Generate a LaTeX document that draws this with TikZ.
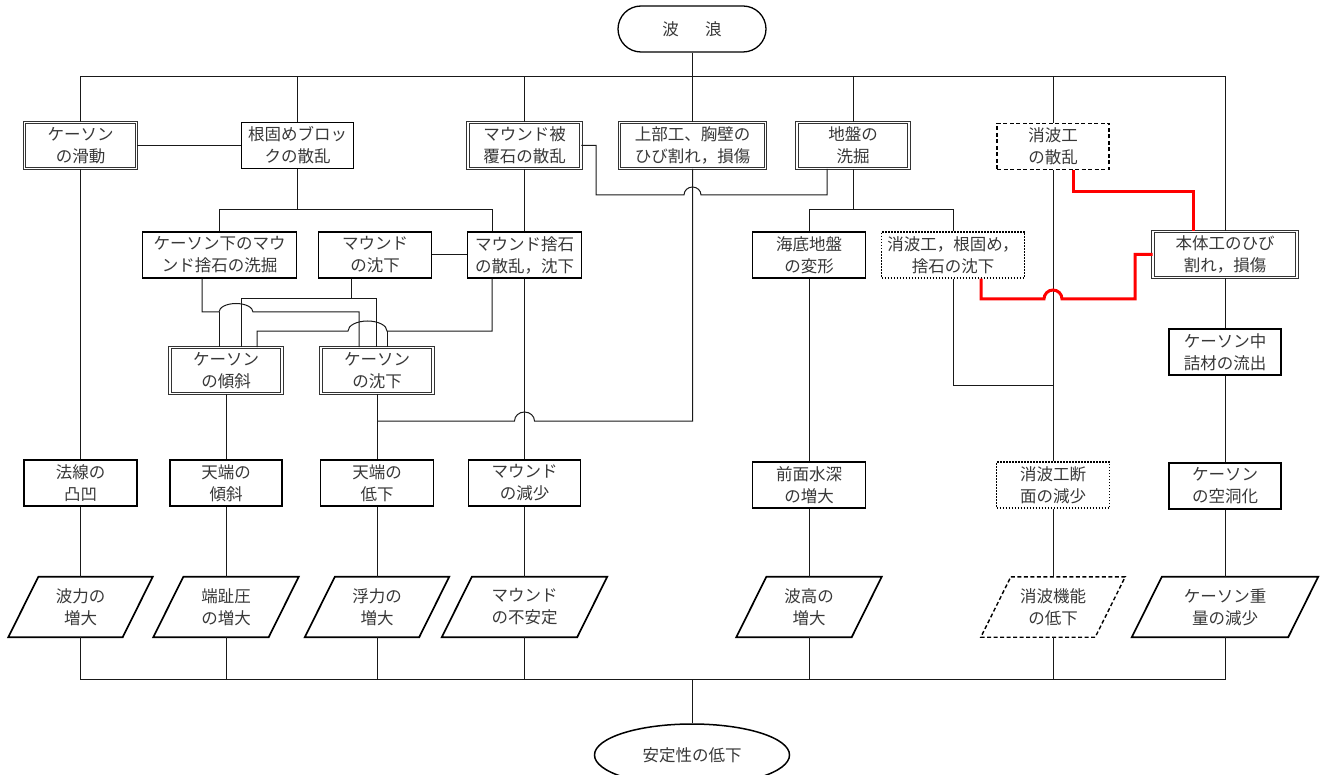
\documentclass[tikz,border=0pt]{standalone}
\usepackage{fontspec}
\setmainfont{Noto Sans CJK JP}
\usetikzlibrary{calc,shapes.geometric}
\begin{document}
\begin{tikzpicture}[x=1pt,y=-1pt,
  base/.style={align=center, inner sep=0pt, font=\fontsize{16.5}{22}\selectfont, text=black!78, fill=white, minimum height=46pt},
  sbox/.style={base, draw=black, line width=1.7pt},
  dbox/.style={base, draw=black!80, double=white, double distance=1.5pt, line width=0.85pt},
  dashbox/.style={base, draw=black, line width=1.4pt, dash pattern=on 4pt off 2.5pt},
  dotbox/.style={base, draw=black, line width=1.5pt, dash pattern=on 1.5pt off 1.5pt},
  pbox/.style={base, fill=none, draw=none, minimum height=60pt},
  pline/.style={draw=black, line width=1.7pt, line join=miter},
  conn/.style={draw=black!90, line width=1pt},
  redl/.style={draw=red, line width=3pt, line join=miter},
]
\useasboundingbox (0,0) rectangle (1324,775);

% top and bottom terminals
\node[base, draw=black, line width=1.3pt, rounded corners=23pt, minimum width=148pt] (pill) at (692,29) {波\hspace{1.6em}浪};
\node[base, draw=black, line width=1.5pt, ellipse, minimum width=195pt, minimum height=62pt] (ell) at (692,755) {安定性の低下};

% row 1
\node[dbox, minimum width=112pt] (kslide) at (80.5,145.5) {ケーソン\\の滑動};
\node[sbox, minimum width=112pt] (nekatame) at (297.5,145.5) {根固めブロッ\\クの散乱};
\node[dbox, minimum width=113pt] (mhifuku) at (524.5,145.5) {マウンド被\\覆石の散乱};
\node[dbox, minimum width=146pt] (jobu) at (692.5,145.5) {上部工、胸壁の\\ひび割れ，損傷};
\node[dbox, minimum width=112pt] (jiban) at (853,145.5) {地盤の\\洗掘};
\node[dashbox, minimum width=112pt] (shohasanran) at (1053,146.5) {消波工\\の散乱};

% row 1.5
\node[sbox, minimum width=154pt] (kshita) at (219.5,255) {ケーソン下のマウ\\ンド捨石の洗掘};
\node[sbox, minimum width=113pt] (mchinka) at (375,255) {マウンド\\の沈下};
\node[sbox, minimum width=114pt] (msuteishi) at (524.5,255) {マウンド捨石\\の散乱，沈下};
\node[sbox, minimum width=113pt] (kaitei) at (809,255) {海底地盤\\の変形};
\node[dotbox, minimum width=143pt] (shoha2) at (953,255) {消波工，根固め，\\捨石の沈下};
\node[dbox, minimum width=144pt] (hontai) at (1225,254.5) {本体工のひび\\割れ，損傷};

% caisson row
\node[dbox, minimum width=112pt] (kkeisha) at (226,370.5) {ケーソン\\の傾斜};
\node[dbox, minimum width=112pt] (kchinka) at (377,370.5) {ケーソン\\の沈下};
\node[sbox, minimum width=112pt] (nakazume) at (1225,352) {ケーソン中\\詰材の流出};

% row 2
\node[sbox, minimum width=113pt] (housen) at (80.5,483) {法線の\\凸凹};
\node[sbox, minimum width=112pt] (tenkei) at (226,483) {天端の\\傾斜};
\node[sbox, minimum width=113pt] (tenteika) at (377,483) {天端の\\低下};
\node[sbox, minimum width=112pt] (mgen) at (524.5,483) {マウンド\\の減少};
\node[sbox, minimum width=113pt] (zenmen) at (809,485) {前面水深\\の増大};
\node[dotbox, minimum width=113pt] (shohadan) at (1053,485) {消波工断\\面の減少};
\node[sbox, minimum width=112pt] (kudo) at (1225,486) {ケーソン\\の空洞化};

% row 3 (parallelograms)
\node[pbox, minimum width=114pt] (p1) at (80.5,607) {波力の\\増大};
\node[pbox, minimum width=115pt] (p2) at (226,607) {端趾圧\\の増大};
\node[pbox, minimum width=114pt] (p3) at (377,607) {浮力の\\増大};
\node[pbox, minimum width=135pt] (p4) at (524.5,607) {マウンド\\の不安定};
\node[pbox, minimum width=115pt] (p5) at (809,607) {波高の\\増大};
\node[pbox, minimum width=114pt] (p6) at (1053,607) {消波機能\\の低下};
\node[pbox, minimum width=156pt] (p7) at (1225,607) {ケーソン重\\量の減少};
\foreach \p in {p1,p2,p3,p4,p5,p7}{
  \draw[pline] ([xshift=15pt]\p.north west) -- ([xshift=15pt]\p.north east) -- ([xshift=-15pt]\p.south east) -- ([xshift=-15pt]\p.south west) -- cycle;
}
\draw[pline, line width=1.4pt, dash pattern=on 4pt off 2.5pt] ([xshift=15pt]p6.north west) -- ([xshift=15pt]p6.north east) -- ([xshift=-15pt]p6.south east) -- ([xshift=-15pt]p6.south west) -- cycle;

% ---------- connectors ----------
\coordinate (busT) at (0,77);
\coordinate (busB) at (0,679);
\draw[conn] (pill.south) -- (pill.south |- busT);
\draw[conn] (kslide.north) |- (hontai.north |- busT) -- (hontai.north);
\foreach \n in {nekatame,mhifuku,jobu,jiban,shohasanran}{
  \draw[conn] (\n.north) -- (\n.north |- busT);
}
\draw[conn] (kslide.east) -- (nekatame.west);
\draw[conn] (kslide.south) -- (housen.north);

% nekatame tree
\coordinate (n210) at (0,210);
\coordinate (m492) at (492,210);
\draw[conn] (nekatame.south) -- (nekatame.south |- n210);
\draw[conn] (kshita.north) |- (m492) -- (m492 |- msuteishi.north);

% mhifuku
\draw[conn] (mhifuku.south) -- (msuteishi.north);
\coordinate (h1) at (596,195);
\coordinate (h2) at (827,195);
\draw[conn] (mhifuku.east) -| (h1) -- ($(jobu.south |- h1)+(-8.5,0)$) arc[start angle=180, end angle=0, x radius=8.5pt, y radius=8pt] -- (h2) -- (h2 |- jiban.south);

\draw[conn] (mchinka.east) -- (msuteishi.west);

% mchinka tree
\coordinate (c351) at (351,299);
\coordinate (c241) at (241,299);
\coordinate (c376) at (376,299);
\draw[conn] (c351 |- mchinka.south) -- (c351);
\draw[conn] (c241 |- kkeisha.north) |- (c376) -- (c376 |- kchinka.north);

% kshita tree
\coordinate (k202) at (202,312);
\coordinate (k219) at (219,312);
\coordinate (k359) at (359,312);
\draw[conn] (k202 |- kshita.south) -- (k202) -- (k219) arc[start angle=180, end angle=0, x radius=17pt, y radius=8.5pt] -- (k359) -- (k359 |- kchinka.north);
\draw[conn] (k219) -- (k219 |- kkeisha.north);

% msuteishi tree
\coordinate (s492) at (492,331);
\coordinate (s387) at (387,331);
\coordinate (s257) at (257,331);
\draw[conn] (s492 |- msuteishi.south) -- (s492) -- (s387) arc[start angle=0, end angle=180, x radius=19.5pt, y radius=10pt] -- (s257) -- (s257 |- kkeisha.north);
\draw[conn] (s387) -- (s387 |- kchinka.north);

% caisson rows
\draw[conn] (kkeisha.south) -- (tenkei.north);
\draw[conn] (kchinka.south) -- (tenteika.north);
\draw[conn] (msuteishi.south) -- (mgen.north);
\coordinate (q421) at (377,421);
\draw[conn] (q421) -- ($(msuteishi.south |- q421)+(-10,0)$) arc[start angle=180, end angle=0, x radius=10pt, y radius=9pt] -| (jobu.south);

% jiban tree
\coordinate (g210) at (0,210);
\draw[conn] (jiban.south) -- (jiban.south |- g210);
\draw[conn] (kaitei.north) |- (shoha2.north |- g210) -- (shoha2.north);
\draw[conn] (kaitei.south) -- (zenmen.north);
\coordinate (w385) at (953,385);
\draw[conn] (shoha2.south) -- (w385) -- (w385 -| shohadan.north);
\draw[conn] (shohasanran.south) -- (shohadan.north);

% right column
\draw[conn] (hontai.south) -- (nakazume.north);
\draw[conn] (nakazume.south) -- (kudo.north);

% red connectors
\coordinate (r1) at (1073,192);
\coordinate (r2) at (1193,192);
\draw[redl] (r1 |- shohasanran.south) -- (r1) -- (r2) -- (r2 |- hontai.north);
\coordinate (r3) at (981,299);
\coordinate (r4) at (1135,299);
\draw[redl] (r3 |- shoha2.south) -- (r3) -- ($(shohadan.north |- r3)+(-9,0)$) arc[start angle=180, end angle=0, x radius=9pt, y radius=9pt] -- (r4) |- (hontai.west);

% row 2 -> row 3
\draw[conn] (housen.south) -- (p1.north);
\draw[conn] (tenkei.south) -- (p2.north);
\draw[conn] (tenteika.south) -- (p3.north);
\draw[conn] (mgen.south) -- (p4.north);
\draw[conn] (zenmen.south) -- (p5.north);
\draw[conn] (shohadan.south) -- (p6.north);
\draw[conn] (kudo.south) -- (p7.north);

% bottom bus
\draw[conn] (p1.south) |- (p7.south |- busB) -- (p7.south);
\foreach \p in {p2,p3,p4,p5,p6}{
  \draw[conn] (\p.south) -- (\p.south |- busB);
}
\draw[conn] (ell.north) -- (ell.north |- busB);
\end{tikzpicture}
\end{document}
